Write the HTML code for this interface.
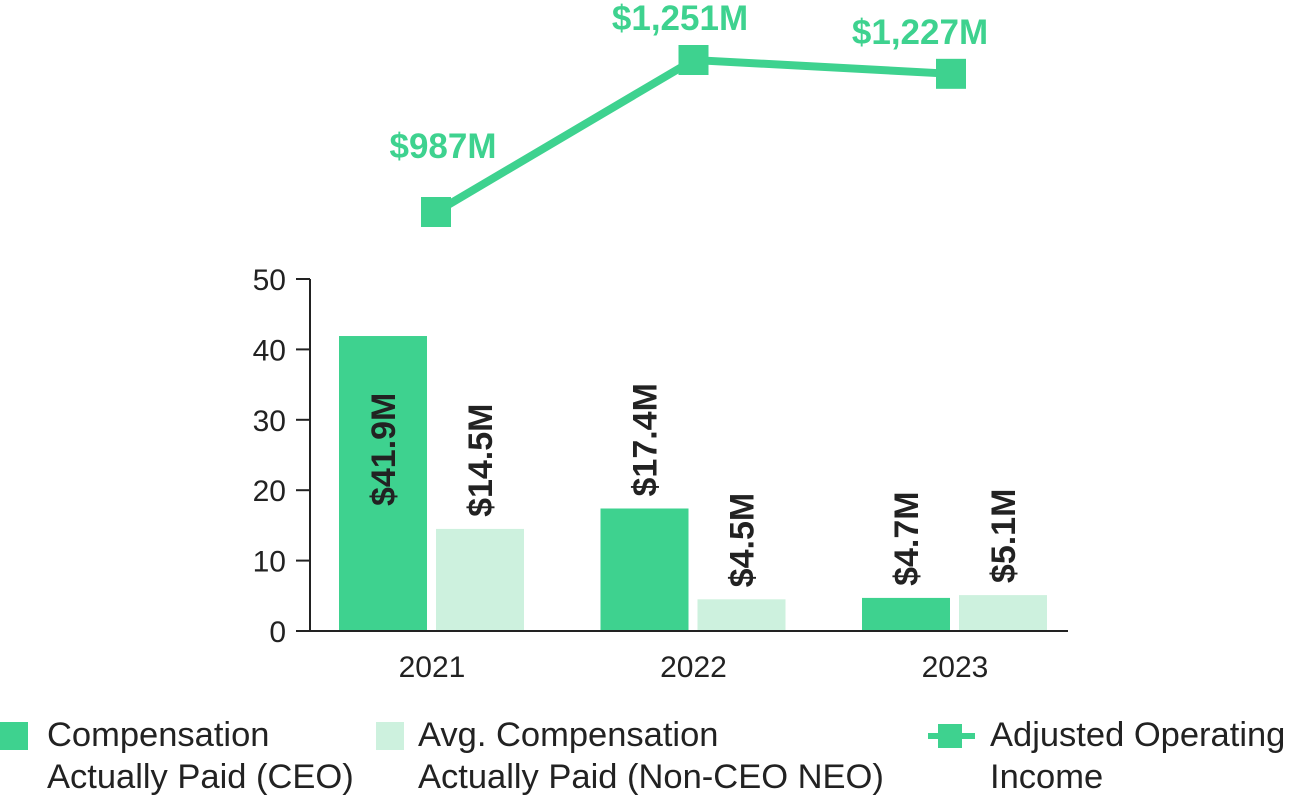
<!DOCTYPE html>
<html><head><meta charset="utf-8"><style>
html,body{margin:0;padding:0;background:#fff;}
svg{display:block;font-family:"Liberation Sans",Arial,sans-serif;}
</style></head><body>
<svg id="chart" width="1297" height="800">
<g id="bars"></g>
<g id="axes"></g>
<g id="line"></g>
<g>
 <rect x="0" y="722" width="28" height="28" fill="#3ed28f"/>
 <text x="47" y="746" font-size="34.5" fill="#222">Compensation</text>
 <text x="47" y="788" font-size="34.5" fill="#222">Actually Paid (CEO)</text>
 <rect x="376" y="722" width="28" height="28" fill="#cdf1de"/>
 <text x="418" y="746" font-size="34.5" fill="#222">Avg. Compensation</text>
 <text x="418" y="788" font-size="34.5" fill="#222">Actually Paid (Non-CEO NEO)</text>
 <line x1="928" y1="736" x2="975" y2="736" stroke="#3ed28f" stroke-width="6"/>
 <rect x="938" y="724" width="24" height="24" fill="#3ed28f"/>
 <text x="990" y="746" font-size="34.5" fill="#222">Adjusted Operating</text>
 <text x="990" y="788" font-size="34.5" fill="#222">Income</text>
</g>
</svg>
<script>
const years=["2021","2022","2023"];
const ceoValues=[41.9,17.4,4.7];
const neoValues=[14.5,4.5,5.1];
const incomeValues=[987,1251,1227];
const yTicks=[0,10,20,30,40,50];
const ceoLabels=["$41.9M","$17.4M","$4.7M"];
const neoLabels=["$14.5M","$4.5M","$5.1M"];
const incomeLabels=["$987M","$1,251M","$1,227M"];

const NS="http://www.w3.org/2000/svg";
function mk(tag,attrs,parent,txt){const e=document.createElementNS(NS,tag);for(const k in attrs)e.setAttribute(k,attrs[k]);if(txt!==undefined)e.textContent=txt;parent.appendChild(e);return e;}
const y0=631,yTop=279;
function yScale(v){return y0-(v/50)*(y0-yTop);}
function xCenter(i){return 432+i*261.5;}
function yInc(v){return 212-(v-987)*(152/264);}
const bars=document.getElementById('bars'),axes=document.getElementById('axes'),line=document.getElementById('line');

years.forEach((yr,i)=>{
 const cx=xCenter(i);
 const sets=[[ceoValues[i],"#3ed28f",cx-93,ceoLabels[i],'ceo'],[neoValues[i],"#cdf1de",cx+4,neoLabels[i],'neo']];
 sets.forEach(s=>{
  const top=yScale(s[0]);
  const r=mk('rect',{x:s[2],y:top,width:88,height:y0-top,fill:s[1]},bars);
  
  
  let lb=top-12;
  if(lb-125<yTop) lb=top+170;
  const lx=s[2]+44+12;
  const t=mk('text',{x:lx,y:lb,transform:`rotate(-90 ${lx} ${lb})`,'font-size':34,'font-weight':'bold',fill:'#222'},bars,s[3]);
  
  
 });
 const yl=mk('text',{x:cx,y:677,'text-anchor':'middle','font-size':30,fill:'#222'},axes,yr);
 
 
});
const ya=mk('line',{x1:310,y1:279,x2:310,y2:632,stroke:'#222','stroke-width':2},axes);


const xa=mk('line',{x1:309,y1:631,x2:1068,y2:631,stroke:'#222','stroke-width':2},axes);


yTicks.forEach(v=>{
 const y=yScale(v);
 const tk=mk('line',{x1:296,y1:y,x2:310,y2:y,stroke:'#222','stroke-width':2},axes);
 
 
 const tl=mk('text',{x:286,y:y+11,'text-anchor':'end','font-size':30,fill:'#222'},axes,String(v));
 
 
});
const pts=incomeValues.map((v,i)=>[xCenter(i)+(i===0?4:i===2?-4:0),yInc(v)]);
const pl=mk('polyline',{points:pts.map(p=>p.join(',')).join(' '),fill:'none',stroke:'#3ed28f','stroke-width':8},line);


pts.forEach((p,i)=>{
 const m=mk('rect',{x:p[0]-15,y:p[1]-15,width:30,height:30,fill:'#3ed28f'},line);
 
 
 const t=mk('text',{x:i===0?443:i===1?680:920,y:i===0?158:p[1]-30,'text-anchor':'middle','font-size':35,'font-weight':'bold',fill:'#3ed28f'},line,incomeLabels[i]);
 
 
});
</script>
</body></html>
